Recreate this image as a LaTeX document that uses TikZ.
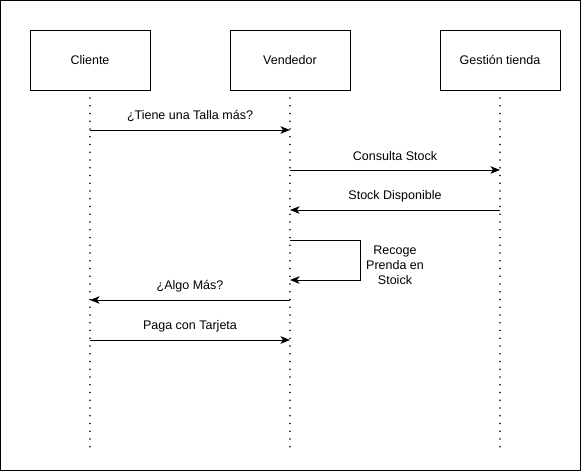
\documentclass[tikz,border=0pt]{standalone}
\usepackage{fontspec}
\setmainfont{Liberation Sans}
\usetikzlibrary{arrows.meta}

\begin{document}
\begin{tikzpicture}[x=1pt, y=-1pt, line width=1pt,
		every node/.style={font=\fontsize{12.5}{15}\selectfont},
		actor/.style={draw, line width=1pt, minimum width=120pt, minimum height=60pt},
		lifeline/.style={line width=1.8pt, line cap=round, dash pattern=on 0pt off 7.75pt},
		msg/.style={-{Stealth[length=9.5pt, width=7.5pt, inset=2.5pt]}},
		msglabel/.style={midway, yshift=14pt}]
		\useasboundingbox (0,0) rectangle (581,471);
		\draw (0.5,0.5) rectangle (580.5,470.5);

		% participantes
		\node[actor] (cliente) at (90,60) {Cliente};
		\node[actor] (vendedor) at (290,60) {Vendedor};
		\node[actor] (gestion) at (500,60) {Gestión tienda};

		\coordinate (cliente end) at (90,452);
		\coordinate (vendedor end) at (290,452);
		\coordinate (gestion end) at (500,452);

		\draw[lifeline] ([yshift=-7.5pt]cliente.south) -- (cliente end);
		\draw[lifeline] ([yshift=-7.5pt]vendedor.south) -- (vendedor end);
		\draw[lifeline] ([yshift=-7.5pt]gestion.south) -- (gestion end);

		% mensajes
		\coordinate (m1) at (0,130);
		\coordinate (m2) at (0,170);
		\coordinate (m3) at (0,210);
		\coordinate (m4) at (0,240);
		\coordinate (m5) at (0,280);
		\coordinate (m6) at (0,300);
		\coordinate (m7) at (0,340);

		\draw[msg] (cliente |- m1) -- (vendedor |- m1) node[msglabel] {¿Tiene una Talla más?};
		\draw[msg] (vendedor |- m2) -- (gestion |- m2) node[msglabel] {Consulta Stock};
		\draw[msg] (gestion |- m3) -- (vendedor |- m3) node[msglabel] {Stock Disponible};
		\draw[msg] (vendedor |- m4) -- ++(70,0) coordinate (loop) -- (loop |- m5) -- (vendedor |- m5);
		\node[align=center] (recoge) at (395,265) {Recoge\\Prenda en\\Stoick};
		\draw[msg] (vendedor |- m6) -- (cliente |- m6) node[msglabel] {¿Algo Más?};
		\draw[msg] (cliente |- m7) -- (vendedor |- m7) node[msglabel] {Paga con Tarjeta};
	\end{tikzpicture}
\end{document}
